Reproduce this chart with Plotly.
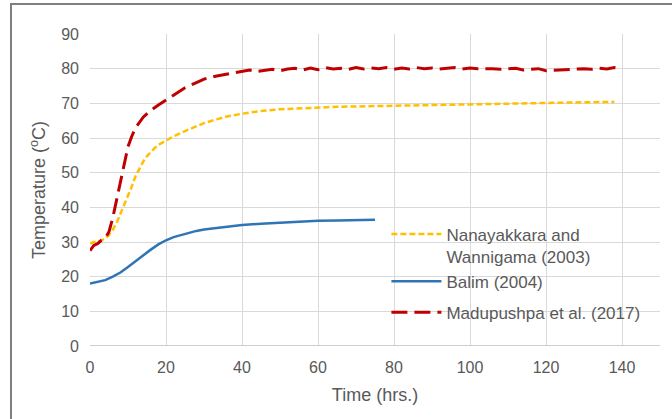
import plotly.graph_objects as go

# Madupushpa et al. (2017)
t_mad = [0, 1, 2, 3, 4, 5, 6, 7, 8, 9, 10, 11, 12, 14, 16, 18, 20, 22, 25, 28, 30, 33,
         36, 38, 40, 42, 44, 46, 48, 50, 52, 54, 56, 58, 60, 62, 64, 66, 68, 70, 72, 74,
         76, 78, 80, 82, 84, 86, 88, 90, 92, 94, 96, 98, 100, 102, 104, 106, 108, 110,
         112, 114, 116, 118, 120, 122, 124, 126, 128, 130, 132, 134, 136, 138, 140]
temp_mad = [27.5, 29, 29.5, 30.5, 31, 33, 37, 42, 48, 53, 57.5, 60.5, 63, 66, 68, 69.5,
            71, 72.5, 74.5, 76, 77, 77.8, 78.4, 78.8, 79.2, 79.6, 79.2, 79.5, 79.8, 79.4,
            79.9, 80.1, 79.6, 80.2, 79.7, 80.3, 79.9, 80.1, 79.8, 80.3, 79.9, 80.2, 80.0,
            80.3, 79.8, 80.2, 79.9, 80.3, 80.0, 80.2, 79.9, 80.1, 80.3, 79.9, 80.2, 80.0,
            80.1, 80.0, 79.8, 80.0, 80.1, 79.6, 79.8, 80.0, 79.4, 79.5, 79.5, 79.6, 79.9,
            80.0, 79.8, 80.1, 79.9, 80.3, 80.0]

# Nanayakkara and Wannigama (2003)
t_nan = [0, 1, 2, 3, 4, 5, 6, 7, 8, 9, 10, 11, 12, 13, 14, 15, 16, 17, 18, 20, 22, 25,
         28, 30, 33, 36, 40, 45, 50, 55, 60, 65, 70, 75, 80, 85, 90, 95, 100, 105, 110,
         115, 120, 125, 130, 135, 138]
temp_nan = [29.5, 30, 30, 30.5, 31, 32, 33.5, 35.5, 38, 40.5, 43, 46, 49, 51.3, 53.2,
            54.8, 56, 57.1, 58, 59.3, 60.5, 62, 63.5, 64.3, 65.3, 66.2, 67, 67.8, 68.3,
            68.6, 68.8, 69, 69.1, 69.2, 69.4, 69.6, 69.7, 69.7, 69.8, 69.9, 70, 70, 70.1,
            70.2, 70.3, 70.4, 70.4]

# Balim (2004)
t_bal = [0, 2, 4, 6, 8, 10, 12, 14, 16, 18, 20, 22, 25, 28, 30, 35, 40, 45, 50, 55, 60,
         65, 70, 75]
temp_bal = [18, 18.4, 19, 20, 21.2, 22.8, 24.5, 26.2, 27.8, 29.3, 30.5, 31.4, 32.4, 33.2,
            33.6, 34.3, 34.9, 35.3, 35.6, 35.9, 36.1, 36.2, 36.3, 36.4]

x_ticks = [0, 20, 40, 60, 80, 100, 120, 140]
y_ticks = [0, 10, 20, 30, 40, 50, 60, 70, 80, 90]

font_family = "Liberation Sans, Arial, sans-serif"
text_grey = "#595959"

fig = go.Figure()
fig.add_trace(go.Scatter(
    x=t_nan, y=temp_nan, mode="lines",
    name="Nanayakkara and<br>Wannigama (2003)", legendgroup="g1",
    line=dict(color="#FFC000", width=2.5, dash="6px,3px"),
))
fig.add_trace(go.Scatter(
    x=t_bal, y=temp_bal, mode="lines",
    name="Balim (2004)", legendgroup="g1",
    line=dict(color="#2E75B6", width=2.5),
))
fig.add_trace(go.Scatter(
    x=t_mad, y=temp_mad, mode="lines",
    name="Madupushpa et al. (2017)", legendgroup="g2",
    line=dict(color="#C00000", width=3, dash="16px,7px"),
))

axis_common = dict(
    showgrid=True, gridcolor="#D9D9D9", gridwidth=1,
    zeroline=False, showline=False, ticks="",
    ticklabelstandoff=10,
    tickfont=dict(family=font_family, size=16, color=text_grey),
)

fig.update_layout(
    width=672, height=419,
    margin=dict(l=90, r=12, t=34, b=73),
    paper_bgcolor="white", plot_bgcolor="white",
    font=dict(family=font_family, color=text_grey, size=16),
    xaxis=dict(range=[0, 150], tickvals=x_ticks,
               title=dict(text="Time (hrs.)", font=dict(size=18, color=text_grey),
                          standoff=13),
               **axis_common),
    yaxis=dict(range=[0, 90], tickvals=y_ticks,
               title=dict(text="Temperature (<sup>o</sup>C)",
                          font=dict(size=18, color=text_grey), standoff=10),
               **axis_common),
    legend=dict(
        x=0.52, y=0.415, xanchor="left", yanchor="top",
        bgcolor="rgba(0,0,0,0)", valign="top",
        font=dict(family=font_family, size=17, color=text_grey),
        traceorder="grouped", tracegroupgap=6, itemwidth=50,
    ),
    shapes=[
        # bottom axis line
        dict(type="line", xref="paper", yref="y", x0=0, x1=1, y0=0, y1=0,
             line=dict(color="#BFBFBF", width=1.5)),
        # outer frame
        dict(type="rect", xref="paper", yref="paper",
             x0=-0.1386, x1=1.04, y0=-0.26, y1=1.096,
             line=dict(color="#7F7F7F", width=2), fillcolor="rgba(0,0,0,0)",
             layer="below"),
    ],
)

fig.write_html("out.html")
